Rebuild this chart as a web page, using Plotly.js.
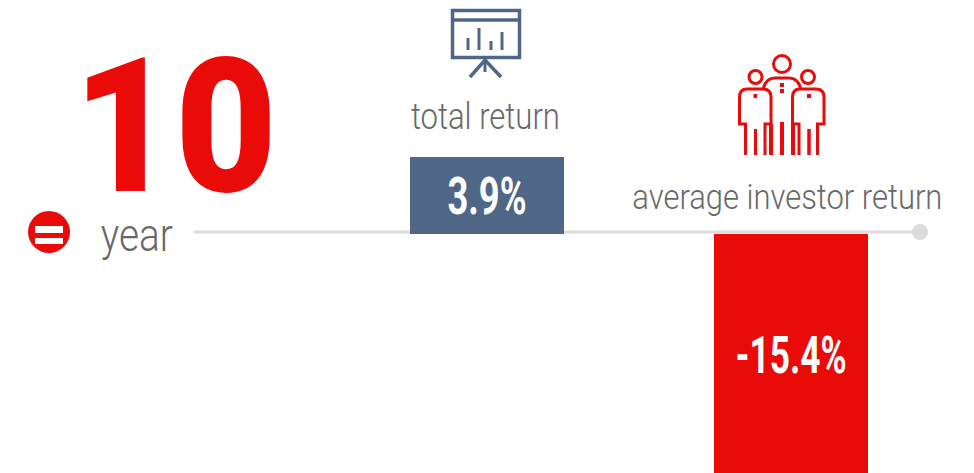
<!DOCTYPE html>
<html><head><meta charset="utf-8">
<script src="https://cdn.plot.ly/plotly-3.0.1.min.js"></script>
<style>html,body{margin:0;padding:0;background:#fff;overflow:hidden}#c{width:974px;height:473px}</style>
</head><body><div id="c"></div>
<script>
const categories = ["total return", "average investor return"];
const returns = [3.9, -15.4];
const valueLabels = ["3.9%", "-15.4%"];
const barColors = ["#4f6687", "#ea0a08"];
const periodNumber = "10";
const periodUnit = "year";

const W = 974, H = 473;
const RED = "#ea0a08", BLUE = "#4f6687", GREY = "#67686a", LINE = "#dcdcdc";
const ROBOTO = 'Roboto, sans-serif';
const px = x => x / W, py = y => 1 - y / H;
const f = n => n.toFixed(5);
function P(pts, close) {
  return pts.map((p, i) => p.length === 4
    ? "Q" + f(px(p[0])) + "," + f(py(p[1])) + " " + f(px(p[2])) + "," + f(py(p[3]))
    : (i ? "L" : "M") + f(px(p[0])) + "," + f(py(p[1]))).join(" ") + (close ? " Z" : "");
}
const shapes = [];
function stroke(pts, color, w, close) {
  shapes.push({type: "path", xref: "paper", yref: "paper", path: P(pts, close), line: {color, width: w}, layer: "above"});
}
function rect(x0, y0, x1, y1, color, layer) {
  shapes.push({type: "rect", xref: "paper", yref: "paper", x0: px(x0), x1: px(x1), y0: py(y0), y1: py(y1), fillcolor: color, line: {width: 0}, layer: layer || "above"});
}
function circle(cx, cy, r, fill, lineColor, w, layer) {
  shapes.push({type: "circle", xref: "paper", yref: "paper", x0: px(cx - r), x1: px(cx + r), y0: py(cy + r), y1: py(cy - r), fillcolor: fill, line: {color: lineColor || fill, width: w || 0}, layer: layer || "above"});
}

// timeline
shapes.push({type: "line", xref: "paper", yref: "paper", x0: px(194), x1: px(920), y0: py(232), y1: py(232), line: {color: LINE, width: 3}, layer: "below"});
circle(920, 232, 8, LINE, LINE, 0, "below");

// equals badge
circle(49, 232, 21, RED);
rect(35, 226, 63, 233, "#fff");
rect(35, 238, 63, 244, "#fff");

// presentation icon
stroke([[452.5, 10.5], [519.5, 10.5], [519.5, 57.5], [452.5, 57.5]], BLUE, 3.5, true);
stroke([[452, 20], [520, 20]], BLUE, 3.5);
[[468, 38], [479, 28], [491, 41], [502, 32]].forEach(b => stroke([[b[0], b[1]], [b[0], 50]], BLUE, 3));
stroke([[470, 77], [485, 60], [501, 77]], BLUE, 3.5);
stroke([[485, 60], [485, 72]], BLUE, 3);

// people icon
const w = 3;
circle(782, 64, 8.5, "rgba(0,0,0,0)", RED, w);
circle(755.5, 77, 6.5, "rgba(0,0,0,0)", RED, w);
circle(808, 77, 6.5, "rgba(0,0,0,0)", RED, w);
stroke([[745.5, 155], [745.5, 124], [739.5, 124], [739.5, 97], [739.5, 89, 747, 89], [763, 89], [771, 89, 771, 97], [771, 124], [765, 124], [765, 155]], RED, w);
stroke([[817.5, 155], [817.5, 124], [824, 124], [824, 97], [824, 89, 816, 89], [800, 89], [792.5, 89, 792.5, 97], [792.5, 124], [799, 124], [799, 155]], RED, w);
stroke([[763.5, 88], [766, 78, 775, 78], [789, 78], [798, 78, 800.5, 88]], RED, w);
stroke([[771, 124], [771, 155]], RED, 4);
stroke([[793, 124], [793, 155]], RED, 4);
stroke([[755.5, 129], [755.5, 155]], RED, w);
stroke([[782, 122], [782, 155]], RED, 4);
stroke([[809, 129], [809, 155]], RED, 3.5);
rect(753.5, 94, 757, 98, RED);
rect(807, 94, 811, 98, RED);
rect(780, 83, 784, 87, RED);
rect(780, 89, 784, 93, RED);

function label(text, x, y, size, color, family, weight) {
  return {text, xref: "paper", yref: "paper", x: px(x), y: py(y), xanchor: "center", yanchor: "middle", showarrow: false, font: {family, size, color, weight}};
}
const annotations = [
  label(periodNumber, 175, 127, 188, RED, ROBOTO, 900),
  label(periodUnit, 137, 235, 46, GREY, ROBOTO, 300),
  label(categories[0], 485.5, 117, 36, GREY, ROBOTO, 300),
  label(categories[1], 787, 197, 35, GREY, ROBOTO, 300)
];
const bars = {
  type: "bar", x: [0, 1], y: returns, width: 0.5066,
  marker: {color: barColors, line: {width: 0}},
  hoverinfo: "skip", showlegend: false
};
const zeroY = 234, unitPx = 77 / 3.9;
const labelTrace = {
  type: "scatter", mode: "text", x: [0, 1],
  y: [1.65, -6.4],
  text: valueLabels,
  textposition: "middle center",
  textfont: {family: ROBOTO, size: 52, color: "#fff", weight: 700},
  hoverinfo: "skip", showlegend: false
};
// target ink widths of the condensed type in the reference
const textWidths = {"10": 204, "year": 72, "total return": 149, "average investor return": 310, "3.9%": 79, "-15.4%": 111};
Plotly.newPlot("c", [bars, labelTrace], {
  width: W, height: H, margin: {l: 0, r: 0, t: 0, b: 0},
  paper_bgcolor: "#fff", plot_bgcolor: "rgba(0,0,0,0)", bargap: 0,
  xaxis: {range: [-487 / 304, 487 / 304], visible: false, fixedrange: true},
  yaxis: {range: [-(H - zeroY) / unitPx, zeroY / unitPx], visible: false, fixedrange: true},
  shapes, annotations
}, {displayModeBar: false, staticPlot: true}).then(gd => {
  gd.querySelectorAll("text").forEach(t => {
    const len = textWidths[t.textContent];
    if (len) { t.setAttribute("textLength", len); t.setAttribute("lengthAdjust", "spacingAndGlyphs"); }
  });
});
</script></body></html>
